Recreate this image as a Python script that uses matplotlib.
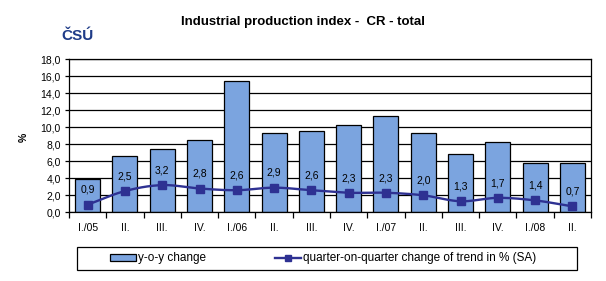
import matplotlib
matplotlib.use("Agg")
import matplotlib.pyplot as plt
import numpy as np
from matplotlib.lines import Line2D
from matplotlib.patches import Patch, Rectangle

categories = ["I./05", "II.", "III.", "IV.", "I./06", "II.", "III.", "IV.",
              "I./07", "II.", "III.", "IV.", "I./08", "II."]
yoy = [3.9, 6.6, 7.5, 8.5, 15.5, 9.3, 9.6, 10.3, 11.3, 9.3, 6.9, 8.3, 5.8, 5.8]
qoq = [0.9, 2.5, 3.2, 2.8, 2.6, 2.9, 2.6, 2.3, 2.3, 2.0, 1.3, 1.7, 1.4, 0.7]
qoq_labels = ["0,9", "2,5", "3,2", "2,8", "2,6", "2,9", "2,6", "2,3", "2,3",
              "2,0", "1,3", "1,7", "1,4", "0,7"]
yticks = [0, 2, 4, 6, 8, 10, 12, 14, 16, 18]

plt.rcParams['font.family'] = ['Liberation Sans', 'DejaVu Sans']

W, H = 606, 281
fig = plt.figure(figsize=(W/100, H/100), dpi=100)
ax = fig.add_axes([69/W, 1-212.3/H, (591-69)/W, (212.3-59.3)/H])

x = np.arange(len(categories))
bar_c = "#7BA4DF"
line_c = "#2E3192"
ax.bar(x, yoy, width=0.67, color=bar_c, edgecolor="black", linewidth=0.9, zorder=2)

# smooth line (Catmull-Rom through data points)
def catmull(xs, ys, n=20):
    xs = np.asarray(xs, float); ys = np.asarray(ys, float)
    px = np.concatenate([[2*xs[0]-xs[1]], xs, [2*xs[-1]-xs[-2]]])
    py = np.concatenate([[2*ys[0]-ys[1]], ys, [2*ys[-1]-ys[-2]]])
    outx, outy = [], []
    for i in range(1, len(px)-2):
        t = np.linspace(0, 1, n, endpoint=False)
        for P, out in ((px, outx), (py, outy)):
            p0, p1, p2, p3 = P[i-1], P[i], P[i+1], P[i+2]
            out.extend(0.5*((2*p1) + (-p0+p2)*t + (2*p0-5*p1+4*p2-p3)*t**2 + (-p0+3*p1-3*p2+p3)*t**3))
    outx.append(xs[-1]); outy.append(ys[-1])
    return np.array(outx), np.array(outy)

sx, sy = catmull(x, qoq)
ax.plot(sx, sy, color=line_c, lw=1.7, zorder=3)
ax.plot(x, qoq, ls="none", marker="s", ms=5.5, color=line_c, zorder=4)
for xi, yi, lab in zip(x, qoq, qoq_labels):
    ax.annotate(lab, (xi, yi), xytext=(0, 7), textcoords="offset points",
                ha="center", va="bottom", fontsize=7.5, zorder=5)

ax.set_xlim(-0.5, len(categories)-0.5)
ax.set_ylim(0, 18)
ax.set_yticks(yticks)
ax.set_yticklabels([f"{v:.1f}".replace(".", ",") for v in yticks], fontsize=7.5)
ax.yaxis.grid(True, color="black", lw=0.9, zorder=1)
ax.set_axisbelow(True)
ax.set_xticks(np.arange(-0.5, len(categories)), minor=False)
ax.set_xticklabels([])
ax.set_xticks(x, minor=True)
ax.set_xticklabels(categories, minor=True, fontsize=7.5)
ax.tick_params(axis="x", which="major", length=4, direction="out", width=0.9)
ax.tick_params(axis="x", which="minor", length=0, pad=8)
ax.tick_params(axis="y", length=3, width=0.9, pad=3)
for s in ax.spines.values():
    s.set_linewidth(0.9)

fig.text(24/W, 1-137/H, "%", rotation=90, ha="center", va="center",
         fontsize=7.5, fontweight="bold")

fig.text(0.5, 1-21.5/H, "Industrial production index -  CR - total",
         ha="center", va="center", fontsize=9.5, fontweight="bold")
fig.text(78/W, 1-36/H, "ČSÚ", ha="center", va="center", fontsize=11,
         fontweight="heavy", color="#1F3C88")

# legend
fig.patches.append(Rectangle((77/W, 1-270/H), (577-77)/W, (270-247)/H,
                             transform=fig.transFigure, facecolor="white",
                             edgecolor="black", lw=0.9, zorder=0))
handles = [Patch(facecolor=bar_c, edgecolor="black", lw=0.9),
           Line2D([], [], color=line_c, lw=1.7, marker="s", ms=4.5)]
leg = fig.legend(handles, ["y-o-y change", "quarter-on-quarter change of trend in % (SA)"],
                 loc="center left", bbox_to_anchor=(110/W, 1-258.5/H), ncol=2,
                 fontsize=8.5, frameon=False, columnspacing=5.8,
                 handlelength=2.2, handleheight=0.5, handletextpad=0.2,
                 borderpad=0, borderaxespad=0)
fig.savefig("out.png", dpi=100)
